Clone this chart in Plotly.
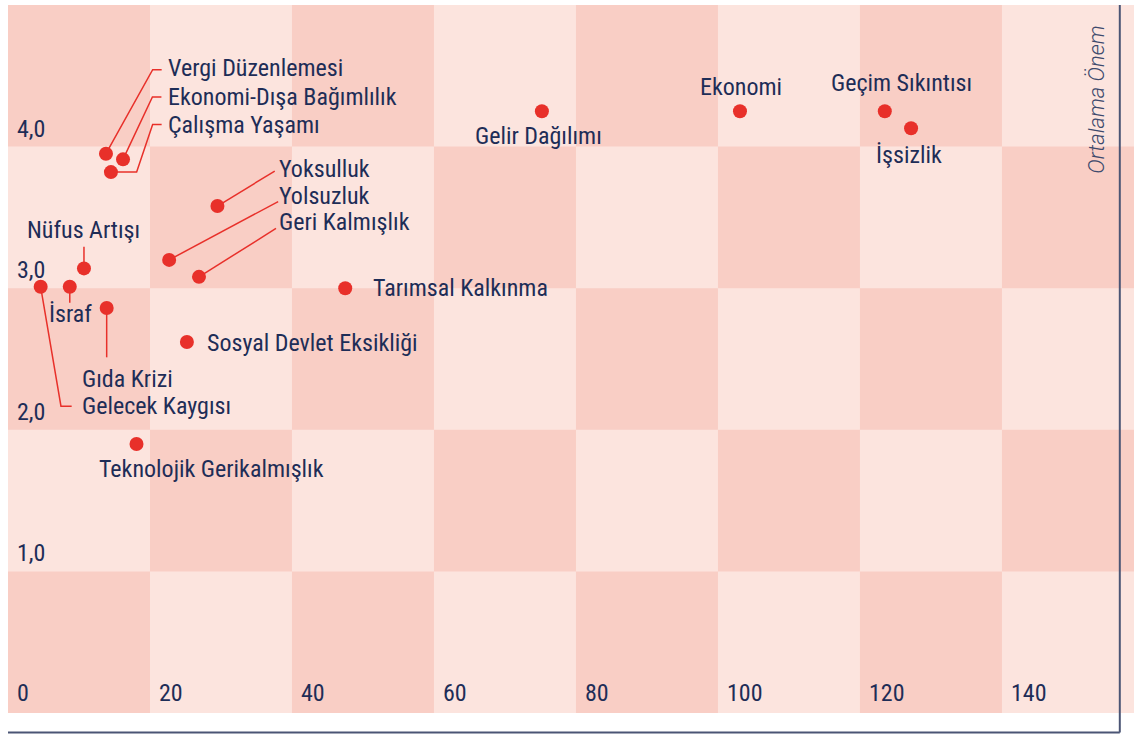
import plotly.graph_objects as go

# ---------------- data ----------------
issues = ["Vergi Düzenlemesi", "Ekonomi-Dışa Bağımlılık", "Çalışma Yaşamı", "Yoksulluk",
          "Yolsuzluk", "Geri Kalmışlık", "Nüfus Artışı", "İsraf", "Gelecek Kaygısı",
          "Gıda Krizi", "Sosyal Devlet Eksikliği", "Teknolojik Gerikalmışlık",
          "Tarımsal Kalkınma", "Gelir Dağılımı", "Ekonomi", "Geçim Sıkıntısı", "İşsizlik"]
frequency = [13.8, 16.2, 14.5, 29.5, 22.7, 26.9, 10.7, 8.7, 4.6, 13.9, 25.2, 18.1,
             47.5, 75.2, 103.1, 123.5, 127.2]
importance = [3.95, 3.91, 3.82, 3.58, 3.20, 3.08, 3.14, 3.01, 3.01, 2.86, 2.62, 1.90,
              3.00, 4.25, 4.25, 4.25, 4.13]
x_ticks = [0, 20, 40, 60, 80, 100, 120, 140]
x_tick_labels = ["0", "20", "40", "60", "80", "100", "120", "140"]
y_ticks = [1, 2, 3, 4]
y_tick_labels = ["1,0", "2,0", "3,0", "4,0"]
y_title = "Ortalama Önem"

# ---------------- layout constants ----------------
W, H = 1134, 735
ML, MR, MT, MB = 8, 0, 5, 22
X_RANGE = [0, 158.6]
Y_RANGE = [0, 5]
AXIS_END_X = 156.6
PW = W - ML - MR
PH = H - MT - MB
PX_PER_X = PW / (X_RANGE[1] - X_RANGE[0])
PX_PER_Y = PH / (Y_RANGE[1] - Y_RANGE[0])

DARK = "#f9cec5"
LIGHT = "#fce4de"
RED = "#e8302a"
NAVY = "#1e2d57"
AXIS = "#4b5575"
FONT = "Roboto Condensed, Roboto, sans-serif"
FS = 24

# label placement: (xanchor, xshift px, dy px (down positive), leader path in px offsets)
label_cfg = {
    "Vergi Düzenlemesi": ("left", 60, -86, [(0, 0), (46.7, -84), (55.7, -84)]),
    "Ekonomi-Dışa Bağımlılık": ("left", 42.7, -62, [(0, 0), (29.4, -62.3), (38.4, -62.3)]),
    "Çalışma Yaşamı": ("left", 55, -46.7, [(0, 0), (25.7, 0), (41.7, -47.7), (50.7, -47.7)]),
    "Yoksulluk": ("left", 59.6, -37.5, [(0, 0), (57.3, -35)]),
    "Yolsuzluk": ("left", 108, -64, [(0, 0), (109, -58.3)]),
    "Geri Kalmışlık": ("left", 78.3, -55.3, [(0, 0), (77, -48.4)]),
    "Nüfus Artışı": ("center", 0, -38.3, [(0, 0), (0, -21.6)]),
    "İsraf": ("center", 1, 27.7, [(0, 0), (0, 16)]),
    "Gelecek Kaygısı": ("left", 39, 119.4, [(0, 0), (20.3, 119.4), (31, 119.4)]),
    "Gıda Krizi": ("left", -27, 70.6, [(0, 0), (0, 49.3)]),
    "Sosyal Devlet Eksikliği": ("left", 18, 0.6, None),
    "Teknolojik Gerikalmışlık": ("left", -39.7, 25, None),
    "Tarımsal Kalkınma": ("left", 25.7, 0, None),
    "Gelir Dağılımı": ("center", -3, 24.3, None),
    "Ekonomi": ("center", 1, -24, None),
    "Geçim Sıkıntısı": ("center", 16.4, -28.4, None),
    "İşsizlik": ("center", -2, 26.7, None),
}

fig = go.Figure()

# checkerboard background
shapes = []
n_cols = 8
n_rows = 5
for c in range(n_cols):
    for r in range(n_rows):
        if (c + r) % 2 == 0:
            shapes.append(dict(type="rect", xref="x", yref="y", layer="below",
                               x0=c * 20, x1=(c + 1) * 20, y0=r, y1=r + 1,
                               fillcolor=DARK, line=dict(width=0)))

# axis lines (right and bottom), in paper coordinates
def x_to_paper(v):
    return (v - X_RANGE[0]) / (X_RANGE[1] - X_RANGE[0])

bottom_y = -19.5 / PH
right_x = x_to_paper(AXIS_END_X)
shapes.append(dict(type="line", xref="paper", yref="paper", x0=0, x1=right_x,
                   y0=bottom_y, y1=bottom_y, line=dict(color=AXIS, width=2)))
shapes.append(dict(type="line", xref="paper", yref="paper", x0=right_x, x1=right_x,
                   y0=bottom_y, y1=1.0, line=dict(color=AXIS, width=2)))

# leader lines
for name, xv, yv in zip(issues, frequency, importance):
    cfg = label_cfg[name]
    path = cfg[3]
    if path:
        lx = [xv + dx / PX_PER_X for dx, dy in path]
        ly = [yv - dy / PX_PER_Y for dx, dy in path]
        fig.add_trace(go.Scatter(x=lx, y=ly, mode="lines",
                                 line=dict(color=RED, width=1.5),
                                 hoverinfo="skip", showlegend=False))

# points
fig.add_trace(go.Scatter(x=frequency, y=importance, mode="markers",
                         marker=dict(color=RED, size=14, line=dict(width=0)),
                         text=issues, hoverinfo="text", showlegend=False,
                         cliponaxis=False))

annotations = []
for name, xv, yv in zip(issues, frequency, importance):
    xa, xs, dy, _ = label_cfg[name]
    annotations.append(dict(x=xv, y=yv, xref="x", yref="y", text=name, showarrow=False,
                            xanchor=xa, yanchor="middle", xshift=xs, yshift=-dy,
                            font=dict(family=FONT, size=FS, color=NAVY)))

for v, t in zip(x_ticks, x_tick_labels):
    annotations.append(dict(x=v, y=0, xref="x", yref="y", text=t, showarrow=False,
                            xanchor="left", yanchor="middle", xshift=7, yshift=20,
                            font=dict(family=FONT, size=FS, color=NAVY)))
for v, t in zip(y_ticks, y_tick_labels):
    annotations.append(dict(x=0, y=v, xref="x", yref="y", text=t, showarrow=False,
                            xanchor="left", yanchor="middle", xshift=7, yshift=18,
                            font=dict(family=FONT, size=FS, color=NAVY)))

annotations.append(dict(x=AXIS_END_X, y=1, xref="x", yref="paper", text=y_title,
                        showarrow=False, textangle=-90, xanchor="right", yanchor="top",
                        xshift=-9, yshift=-18,
                        font=dict(family="Roboto, sans-serif", size=22, color="#3d4a6d",
                                  style="italic", weight=300)))

fig.update_layout(
    width=W, height=H,
    margin=dict(l=ML, r=MR, t=MT, b=MB),
    paper_bgcolor="white",
    plot_bgcolor=LIGHT,
    shapes=shapes,
    annotations=annotations,
    xaxis=dict(range=X_RANGE, showgrid=False, zeroline=False, showticklabels=False,
               ticks="", showline=False, fixedrange=True),
    yaxis=dict(range=Y_RANGE, showgrid=False, zeroline=False, showticklabels=False,
               ticks="", showline=False, fixedrange=True),
    showlegend=False,
)

fig.write_html("out.html", config={"displayModeBar": False},
               post_script="document.body.style.margin='0';document.body.style.overflow='hidden';")
